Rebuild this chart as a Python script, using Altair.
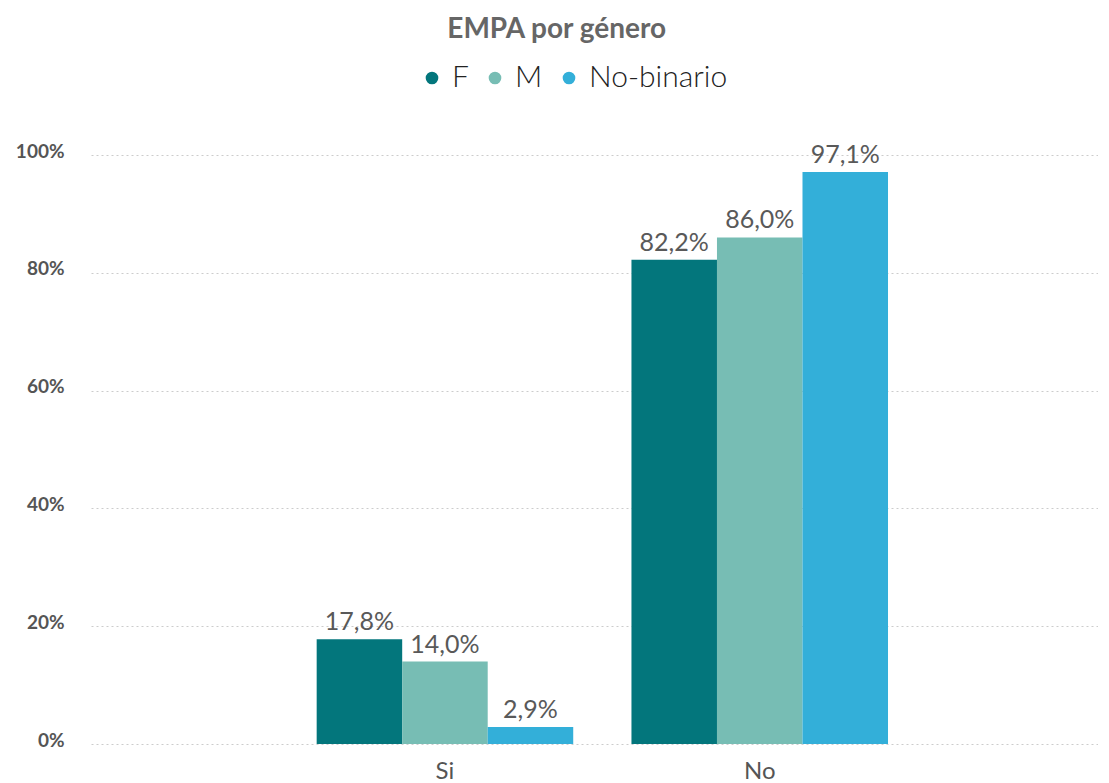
import altair as alt
import pandas as pd

categories = ["Si", "No"]
genders = ["F", "M", "No-binario"]
values_F = [17.8, 82.2]
values_M = [14.0, 86.0]
values_NB = [2.9, 97.1]
colors = ["#03767c", "#77bdb4", "#33afd9"]

rows = []
for i, c in enumerate(categories):
    for g, vals in zip(genders, [values_F, values_M, values_NB]):
        v = vals[i]
        rows.append({"cat": c, "gen": g, "val": v,
                     "label": f"{v:.1f}".replace(".", ",") + "%"})
df = pd.DataFrame(rows)

FONT = "Lato"

x = alt.X("cat:N", sort=categories, title=None,
          scale=alt.Scale(paddingInner=0.185, paddingOuter=0.692, align=0.518),
          axis=alt.Axis(labelAngle=0, domain=False, ticks=False, labelFontSize=24,
                        labelColor="#555555", labelFont=FONT, labelPadding=15))
xo = alt.XOffset("gen:N", sort=genders, scale=alt.Scale(paddingInner=0, paddingOuter=0))
y = alt.Y("val:Q", title=None, scale=alt.Scale(domain=[0, 100], nice=False),
          axis=alt.Axis(values=[0, 20, 40, 60, 80, 100], labelExpr="datum.value + '%'",
                        domain=False, ticks=False, labelPadding=27, labelFontSize=19,
                        labelFontWeight="bold", labelColor="#555555", labelFont=FONT,
                        labelOffset=-4,
                        gridColor="#cccccc", gridDash=[2, 3], gridWidth=1))

color = alt.Color("gen:N", sort=genders, title=None,
                  scale=alt.Scale(domain=genders, range=colors),
                  legend=alt.Legend(orient="none", legendX=326, legendY=-92,
                                    direction="horizontal", symbolType="circle",
                                    symbolSize=160, symbolStrokeWidth=0,
                                    labelFontSize=30, labelFont=FONT, labelFontWeight=300,
                                    labelColor="#222222", labelOffset=5, columnPadding=11))

bars = alt.Chart(df).mark_bar().encode(x=x, xOffset=xo, y=y, color=color)
text = alt.Chart(df).mark_text(baseline="bottom", dy=-4, fontSize=25, font=FONT,
                               color="#595959").encode(
    x=alt.X("cat:N", sort=categories), xOffset=alt.XOffset("gen:N", sort=genders),
    y="val:Q", text="label:N")

chart = (bars + text).properties(
    width=1007, height=589,
    title=alt.TitleParams("EMPA por género", fontSize=28, font=FONT, fontWeight="bold",
                          color="#666666", anchor="middle", frame="bounds", offset=19),
    padding={"left": 7, "top": 8, "right": 0, "bottom": 0},
).configure_view(stroke=None)

chart.save("out.html", embed_options={"renderer": "svg", "actions": False})
